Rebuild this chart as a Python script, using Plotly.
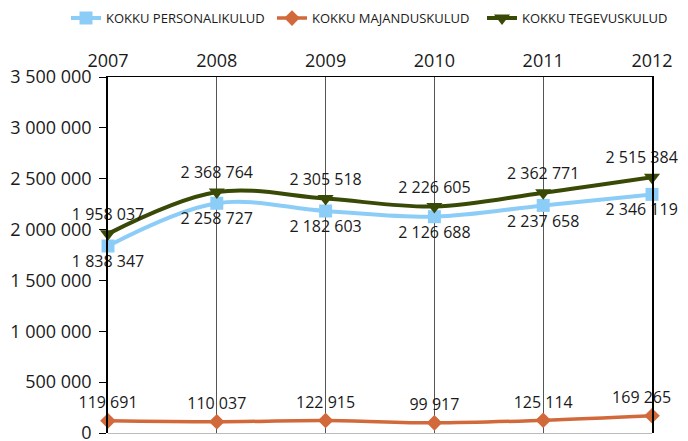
import plotly.graph_objects as go

years = [2007, 2008, 2009, 2010, 2011, 2012]
personal = [1838347, 2258727, 2182603, 2126688, 2237658, 2346119]
majandus = [119691, 110037, 122915, 99917, 125114, 169265]
tegevus = [1958037, 2368764, 2305518, 2226605, 2362771, 2515384]

y_ticks = [0, 500000, 1000000, 1500000, 2000000, 2500000, 3000000, 3500000]


def fmt(v):
    # tühik tuhandete eraldajaks
    return f"{v:,}".replace(",", " ")


def labels(values):
    # viimane silt nihutatakse veidi vasakule, et see mahuks pildile
    out = [fmt(v) for v in values]
    out[-1] = out[-1] + "\u00a0" * 5
    return out


FONT = "Open Sans, Liberation Sans, sans-serif"

fig = go.Figure()

fig.add_trace(go.Scatter(
    x=years, y=personal, name="KOKKU PERSONALIKULUD", legend="legend",
    mode="lines+markers+text", line=dict(color="#8ccdf8", width=4, shape="spline"),
    marker=dict(symbol="square", size=13, color="#8ccdf8"),
    text=labels(personal), textposition="bottom center",
    textfont=dict(size=16, color="#1a1a1a"), cliponaxis=False,
))
fig.add_trace(go.Scatter(
    x=years, y=majandus, name="KOKKU MAJANDUSKULUD", legend="legend2",
    mode="lines+markers+text", line=dict(color="#d2693a", width=3.5, shape="spline"),
    marker=dict(symbol="diamond", size=12, color="#d2693a"),
    text=labels(majandus), textposition="top center",
    textfont=dict(size=16, color="#1a1a1a"), cliponaxis=False,
))
fig.add_trace(go.Scatter(
    x=years, y=tegevus, name="KOKKU TEGEVUSKULUD", legend="legend3",
    mode="lines+markers+text", line=dict(color="#394a06", width=4, shape="spline"),
    marker=dict(symbol="triangle-down", size=14, color="#394a06"),
    text=labels(tegevus), textposition="top center",
    textfont=dict(size=16, color="#1a1a1a"), cliponaxis=False,
))

leg = dict(orientation="h", xanchor="left", xref="container",
           y=0.977, yanchor="middle", yref="container",
           font=dict(size=13), itemwidth=30)

# lehe vaikimisi 8px äär nihutab kõike, seega veerised on selle võrra väiksemad
fig.update_layout(
    width=688, height=441,
    margin=dict(l=100, r=44, t=69, b=16),
    plot_bgcolor="white", paper_bgcolor="white",
    font=dict(family=FONT, size=16, color="#1a1a1a"),
    showlegend=True,
    legend=dict(leg, x=58 / 688),
    legend2=dict(leg, x=264 / 688),
    legend3=dict(leg, x=474 / 688),
)
fig.update_xaxes(
    side="top", range=[2007, 2012], tickvals=years, ticktext=[str(y) for y in years],
    showgrid=True, gridcolor="#555555", gridwidth=1, zeroline=False,
    showline=True, linecolor="black", linewidth=1,
    ticks="", tickfont=dict(size=18), ticklabelstandoff=2,
    automargin=False, ticklabeloverflow="allow",
)
fig.update_yaxes(
    range=[0, 3500000], tickvals=y_ticks, ticktext=[fmt(v) for v in y_ticks],
    showgrid=False, zeroline=True, zerolinecolor="#bbbbbb", zerolinewidth=1,
    showline=True, linecolor="black", linewidth=1.5, mirror=True,
    ticks="outside", ticklen=7, tickcolor="black", tickfont=dict(size=18),
    ticklabelstandoff=4, automargin=False, ticklabeloverflow="allow",
)

fig.write_html("out.html")
